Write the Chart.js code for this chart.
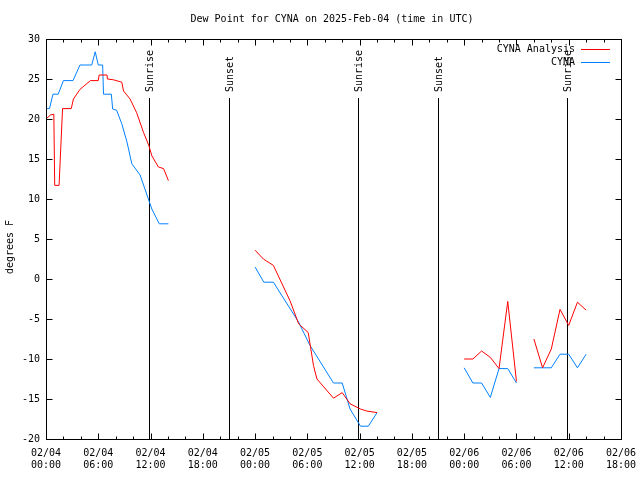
<!DOCTYPE html>
<html>
<head>
<meta charset="utf-8">
<script src="https://cdn.jsdelivr.net/npm/chart.js@4"></script>
<style>
  body { margin: 0; background: #fff; }
  canvas { display: block; }
</style>
</head>
<body>
<canvas id="dewChart" width="640" height="480"></canvas>
<script>
// hours since 02/04 00:00 UTC, null value = gap in the line
const analysisHours = [0, 0.5, 0.9, 1.0, 1.5, 1.9, 2.9, 3.15, 3.9, 5.1, 6.0, 6.1, 7.0, 7.05, 7.75, 8.7, 8.9, 9.65, 10.4, 11.2, 11.8, 12.15, 12.9, 13.5, 14.05,
    19,
    24, 24.95, 26.1, 28, 29, 30.1, 30.7, 31.1, 33, 34, 34.9, 36.1, 36.8, 38,
    43,
    48, 49, 50, 51, 52, 53, 54, 55, 56, 57, 58, 59, 60, 61, 62];
const analysisValues = [20.0, 20.5, 20.6, 11.7, 11.7, 21.3, 21.3, 22.5, 23.7, 24.8, 24.8, 25.5, 25.5, 25.0, 24.9, 24.6, 23.5, 22.5, 20.8, 18.3, 16.7, 15.4, 14.0, 13.8, 12.3,
    null,
    3.6, 2.5, 1.7, -2.7, -5.6, -6.7, -10.8, -12.5, -14.9, -14.2, -15.6, -16.25, -16.5, -16.7,
    null,
    -10.0, -10.0, -9.0, -9.8, -11.2, -2.8, -12.8, null, -7.5, -11.1, -8.75, -3.8, -5.8, -2.9, -3.9];

const obsHours = [0, 0.4, 0.8, 1.4, 2.0, 3.1, 3.9, 5.25, 5.65, 6.0, 6.5, 6.6, 7.5, 7.65, 8.1, 8.7, 9.3, 9.85, 10.8, 11.75, 12.15, 13.0, 14.05,
    19,
    24, 25, 26.1, 29, 30.3, 33, 34, 34.9, 36.1, 37, 38,
    43,
    48, 49, 50, 51, 52, 53, 54, 55, 56, 57, 58, 59, 60, 61, 62];
const obsValues = [21.3, 21.3, 23.1, 23.1, 24.8, 24.8, 26.75, 26.75, 28.4, 26.75, 26.75, 23.1, 23.1, 21.25, 21.1, 19.4, 17.1, 14.4, 13.0, 10.0, 8.75, 6.9, 6.9,
    null,
    1.5, -0.4, -0.4, -5.4, -8.3, -13.0, -13.0, -16.25, -18.4, -18.4, -16.7,
    null,
    -11.1, -13.0, -13.0, -14.8, -11.2, -11.2, -13.0, null, -11.1, -11.1, -11.1, -9.4, -9.4, -11.1, -9.4];

const xTickLabels = [
    ['02/04', '00:00'], ['02/04', '06:00'], ['02/04', '12:00'], ['02/04', '18:00'],
    ['02/05', '00:00'], ['02/05', '06:00'], ['02/05', '12:00'], ['02/05', '18:00'],
    ['02/06', '00:00'], ['02/06', '06:00'], ['02/06', '12:00'], ['02/06', '18:00']
];

const sunHours = [11.8, 20.95, 35.8, 45.0, 59.75];
const sunLabels = ['Sunrise', 'Sunset', 'Sunrise', 'Sunset', 'Sunrise'];

const FONT = "'DejaVu Sans Mono', 'Liberation Mono', monospace";

function toPoints(xs, ys) {
    return xs.map((x, i) => ({ x: x, y: ys[i] }));
}

const framePlugin = {
    id: 'frame',
    beforeDatasetsDraw(chart) {
        const { ctx, chartArea, scales } = chart;
        ctx.save();
        ctx.strokeStyle = '#000';
        ctx.lineWidth = 1;
        ctx.fillStyle = '#000';
        ctx.font = '10px ' + FONT;
        sunHours.forEach((h, i) => {
            const px = Math.round(scales.x.getPixelForValue(h)) + 0.5;
            ctx.beginPath();
            ctx.moveTo(px, 98);
            ctx.lineTo(px, chartArea.bottom);
            ctx.stroke();
            ctx.save();
            ctx.translate(px + 1, 92);
            ctx.rotate(-Math.PI / 2);
            ctx.textAlign = 'left';
            ctx.textBaseline = 'middle';
            ctx.fillText(sunLabels[i], 0, 0);
            ctx.restore();
        });
        ctx.restore();
    },
    afterDraw(chart) {
        const { ctx, chartArea, scales } = chart;
        const l = Math.round(chartArea.left) + 0.5;
        const r = Math.round(chartArea.right) + 0.5;
        const t = Math.round(chartArea.top) + 0.5;
        const b = Math.round(chartArea.bottom) + 0.5;
        ctx.save();
        ctx.strokeStyle = '#000';
        ctx.lineWidth = 1;
        ctx.strokeRect(l, t, r - l, b - t);

        // inward ticks on all four sides
        ctx.beginPath();
        for (let h = 0; h <= 66; h += 2) {
            const px = Math.round(scales.x.getPixelForValue(h)) + 0.5;
            const len = h % 6 === 0 ? 6 : 3;
            ctx.moveTo(px, b); ctx.lineTo(px, b - len);
            ctx.moveTo(px, t); ctx.lineTo(px, t + len);
        }
        for (let v = -20; v <= 30; v += 5) {
            const py = Math.round(scales.y.getPixelForValue(v)) + 0.5;
            ctx.moveTo(l, py); ctx.lineTo(l + 6, py);
            ctx.moveTo(r, py); ctx.lineTo(r - 6, py);
        }
        ctx.stroke();

        ctx.fillStyle = '#000';
        ctx.font = '10px ' + FONT;
        ctx.textBaseline = 'middle';

        // title
        ctx.textAlign = 'center';
        ctx.fillText('Dew Point for CYNA on 2025-Feb-04 (time in UTC)', 332, 19);

        // y axis title
        ctx.save();
        ctx.translate(10, 247);
        ctx.rotate(-Math.PI / 2);
        ctx.fillText('degrees F', 0, 0);
        ctx.restore();

        // legend
        const entries = chart.data.datasets;
        entries.forEach((ds, i) => {
            const y = 49 + i * 13;
            ctx.textAlign = 'right';
            ctx.fillStyle = '#000';
            ctx.fillText(ds.label, 575, y);
            ctx.strokeStyle = ds.borderColor;
            ctx.beginPath();
            ctx.moveTo(581, y + 0.5);
            ctx.lineTo(610, y + 0.5);
            ctx.stroke();
        });
        ctx.restore();
    }
};

new Chart(document.getElementById('dewChart'), {
    type: 'line',
    data: {
        datasets: [{
            label: 'CYNA Analysis',
            data: toPoints(analysisHours, analysisValues),
            borderColor: '#ff0000',
            borderWidth: 1,
            pointRadius: 0,
            spanGaps: false
        }, {
            label: 'CYNA',
            data: toPoints(obsHours, obsValues),
            borderColor: '#0080ff',
            borderWidth: 1,
            pointRadius: 0,
            spanGaps: false
        }]
    },
    options: {
        responsive: false,
        animation: false,
        layout: { padding: { top: 39, right: 19, left: 0, bottom: 0 } },
        scales: {
            x: {
                type: 'linear',
                min: 0,
                max: 66,
                afterBuildTicks(scale) {
                    scale.ticks = xTickLabels.map((_, i) => ({ value: i * 6 }));
                },
                afterFit(scale) {
                    scale.height = 41;
                    scale.paddingLeft = 0;
                    scale.paddingRight = 0;
                },
                grid: { display: false, drawTicks: false },
                border: { display: false },
                ticks: {
                    padding: 9,
                    maxRotation: 0,
                    autoSkip: false,
                    color: '#000',
                    font: { family: FONT, size: 10, lineHeight: 1.15 },
                    callback: (v) => xTickLabels[Math.round(v / 6)]
                }
            },
            y: {
                min: -20,
                max: 30,
                afterFit(scale) {
                    scale.width = 46;
                    scale.paddingTop = 0;
                    scale.paddingBottom = 0;
                },
                grid: { display: false, drawTicks: false },
                border: { display: false },
                ticks: {
                    stepSize: 5,
                    padding: 6,
                    color: '#000',
                    font: { family: FONT, size: 10 }
                }
            }
        },
        plugins: {
            legend: { display: false },
            title: { display: false },
            tooltip: { enabled: false }
        }
    },
    plugins: [framePlugin]
});
</script>
</body>
</html>
